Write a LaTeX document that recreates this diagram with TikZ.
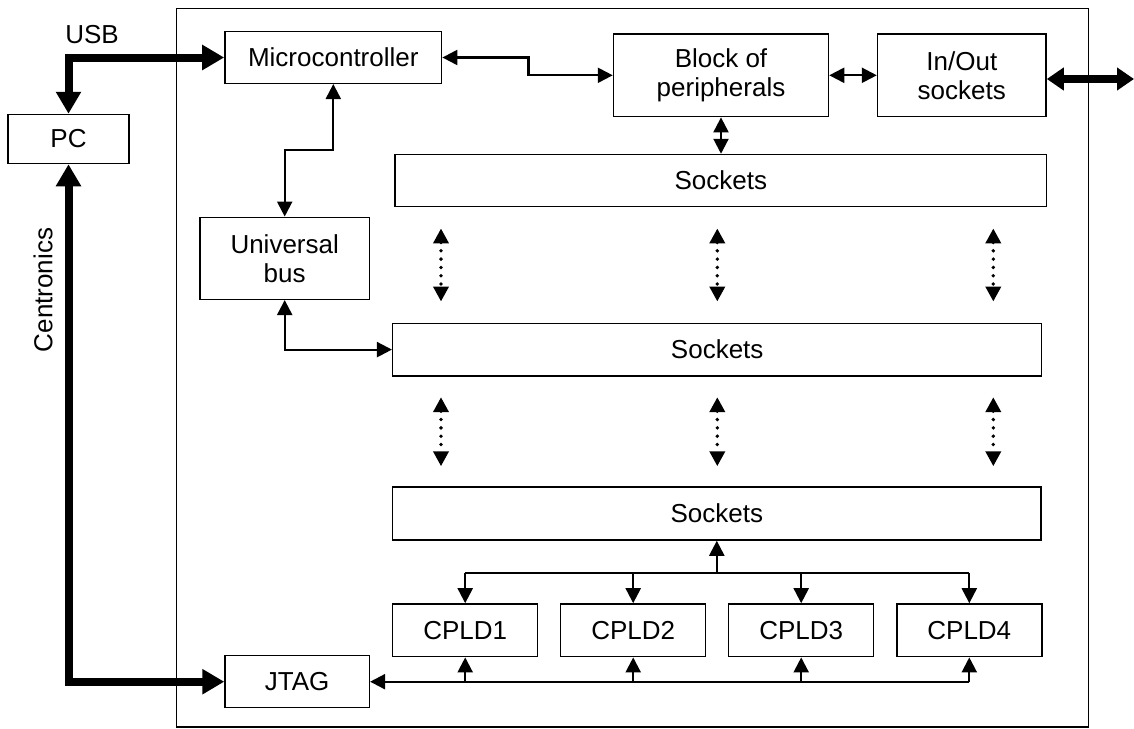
\documentclass[tikz,border=0pt]{standalone}
\usepackage{fontspec}
\setmainfont{Liberation Sans}
\usetikzlibrary{arrows.meta,calc}
\begin{document}
\begin{tikzpicture}[x=1pt,y=-1pt,
  txt/.style={font=\fontsize{26}{29}\selectfont,align=center,inner sep=0pt},
  box/.style={txt,draw,line width=1.5pt},
  frame/.style={draw,line width=1.3pt},
  tip/.tip={Triangle[length=15pt,width=15pt]},
  bigtip/.tip={Triangle[length=22pt,width=24pt]},
  midtip/.tip={Triangle[length=17pt,width=22pt]},
  conn/.style={line width=2.2pt,-tip},
  dconn/.style={line width=2.2pt,tip-tip},
  fat/.style={line width=8pt,bigtip-bigtip},
  ext/.style={line width=8pt,midtip-midtip},
  dots/.style={line width=3.8pt,line cap=round,dash pattern=on 0pt off 8.3pt,tip-tip}
]
\useasboundingbox (0,0) rectangle (1134,728);
% frame
\draw[frame] (176.7,8.3) rectangle (1088.5,727);
% nodes
\node[box,minimum width=121pt,minimum height=49pt] (pc) at (68.5,139) {PC};
\node[box,minimum width=216.7pt,minimum height=51.6pt] (mc) at (333.3,57.5) {Microcontroller};
\node[box,minimum width=215pt,minimum height=82.7pt] (bp) at (721,75.3) {Block of\\peripherals};
\node[box,minimum width=168.5pt,minimum height=82.7pt] (io) at (961.8,75.3) {In/Out\\sockets};
\node[box,minimum width=651.7pt,minimum height=52.2pt] (s1) at (720.8,180.6) {Sockets};
\node[box,minimum width=169.3pt,minimum height=82pt] (ub) at (284.7,258.3) {Universal\\bus};
\node[box,minimum width=649pt,minimum height=52.7pt] (s2) at (717.2,349.6) {Sockets};
\node[box,minimum width=648.5pt,minimum height=53pt] (s3) at (716.8,513.5) {Sockets};
\foreach \i/\x in {1/465.2,2/633.2,3/801.2,4/969.3}
  \node[box,minimum width=145pt,minimum height=52.7pt] (c\i) at (\x,630.3) {CPLD\i};
\node[box,minimum width=144.3pt,minimum height=52pt] (jtag) at (297.2,681.7) {JTAG};
% labels
\node[txt] (usb) at (92,35) {USB};
\node[txt,rotate=90] (cen) at (43,290) {Centronics};
% thick links to PC
\draw[fat] (mc.west) -| (pc.north);
\draw[fat] (pc.south) |- (jtag.west);
% external
\coordinate (out) at (1134,79);
\draw[ext] (io.east |- out) -- (out);
% top connections
\draw[dconn] (mc.east) -- ++(86,0) |- (bp.west);
\draw[dconn] (bp.east) -- (io.west);
\draw[dconn] (bp.south) -- (bp.south |- s1.north);
\draw[dconn] (mc.south) -- ++(0,65.7) -| (ub.north);
\draw[dconn] (ub.south) |- (s2.west);
% dotted links between socket rows
\foreach \k/\x in {a/441,b/717.3,c/993.3}{
  \coordinate (col\k) at (\x,0);
  \draw[dots,shorten <=21pt,shorten >=21pt] (col\k |- s1.south) -- (col\k |- s2.north);
  \draw[dots,shorten <=20.5pt,shorten >=20pt] (col\k |- s2.south) -- (col\k |- s3.north);
}
% CPLD top bus
\coordinate (tbus) at ($(s3.south)+(0,32.3)$);
\draw[line width=2.2pt] (c1.north |- tbus) -- (c4.north |- tbus);
\draw[conn] (tbus) -- (s3.south);
\foreach \i in {1,...,4}
  \draw[conn] (c\i.north |- tbus) -- (c\i.north);
% CPLD bottom bus to JTAG
\draw[conn] (c4.south |- jtag.east) -- (jtag.east);
\foreach \i in {1,...,4}
  \draw[conn] (c\i.south |- jtag.east) -- (c\i.south);
\end{tikzpicture}
\end{document}
